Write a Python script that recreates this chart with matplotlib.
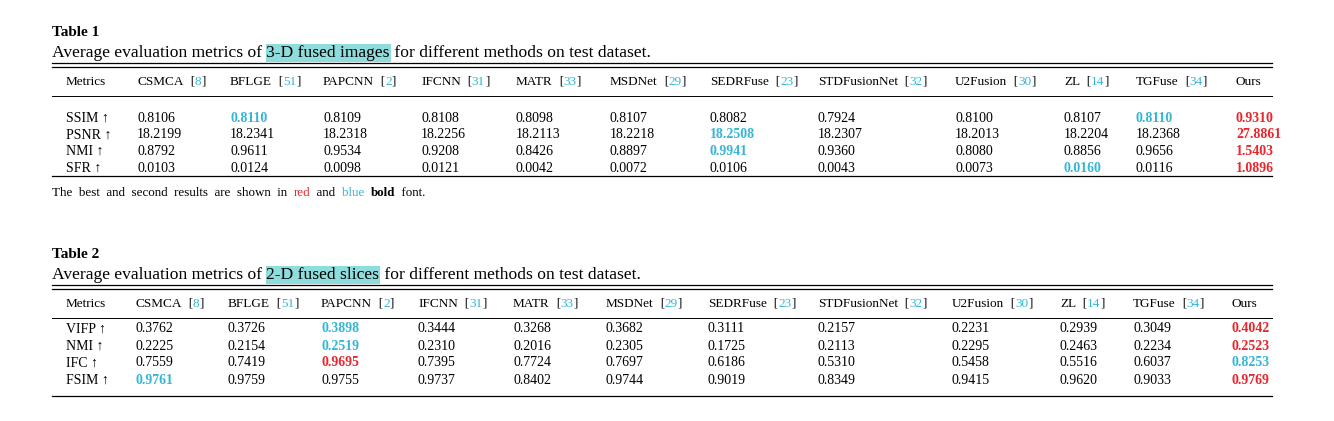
import matplotlib
matplotlib.use("Agg")
import matplotlib.pyplot as plt

plt.rcParams['font.family'] = ['Liberation Serif', 'DejaVu Serif']

RED = '#e8262b'
BLUE = '#35b6d6'
HL = '#8fdcdc'

methods = [('Metrics', None), ('CSMCA', '8'), ('BFLGE', '51'), ('PAPCNN', '2'), ('IFCNN', '31'),
           ('MATR', '33'), ('MSDNet', '29'), ('SEDRFuse', '23'), ('STDFusionNet', '32'),
           ('U2Fusion', '30'), ('ZL', '14'), ('TGFuse', '34'), ('Ours', None)]

t1_metrics = ['SSIM', 'PSNR', 'NMI', 'SFR']
t1_values = [
    ['0.8106', '0.8110', '0.8109', '0.8108', '0.8098', '0.8107', '0.8082', '0.7924', '0.8100', '0.8107', '0.8110', '0.9310'],
    ['18.2199', '18.2341', '18.2318', '18.2256', '18.2113', '18.2218', '18.2508', '18.2307', '18.2013', '18.2204', '18.2368', '27.8861'],
    ['0.8792', '0.9611', '0.9534', '0.9208', '0.8426', '0.8897', '0.9941', '0.9360', '0.8080', '0.8856', '0.9656', '1.5403'],
    ['0.0103', '0.0124', '0.0098', '0.0121', '0.0042', '0.0072', '0.0106', '0.0043', '0.0073', '0.0160', '0.0116', '1.0896'],
]
# (row, col) -> colour of best / second
t1_marks = {(0, 1): BLUE, (0, 10): BLUE, (0, 11): RED, (1, 6): BLUE, (1, 11): RED,
            (2, 6): BLUE, (2, 11): RED, (3, 9): BLUE, (3, 11): RED}

t2_metrics = ['VIFP', 'NMI', 'IFC', 'FSIM']
t2_values = [
    ['0.3762', '0.3726', '0.3898', '0.3444', '0.3268', '0.3682', '0.3111', '0.2157', '0.2231', '0.2939', '0.3049', '0.4042'],
    ['0.2225', '0.2154', '0.2519', '0.2310', '0.2016', '0.2305', '0.1725', '0.2113', '0.2295', '0.2463', '0.2234', '0.2523'],
    ['0.7559', '0.7419', '0.9695', '0.7395', '0.7724', '0.7697', '0.6186', '0.5310', '0.5458', '0.5516', '0.6037', '0.8253'],
    ['0.9761', '0.9759', '0.9755', '0.9737', '0.8402', '0.9744', '0.9019', '0.8349', '0.9415', '0.9620', '0.9033', '0.9769'],
]
t2_marks = {(0, 2): BLUE, (0, 11): RED, (1, 2): BLUE, (1, 11): RED,
            (2, 2): RED, (2, 11): BLUE, (3, 0): BLUE, (3, 11): RED}

W, H = 1334, 421
fig = plt.figure(figsize=(W / 100, H / 100), dpi=100)
fig.patch.set_facecolor('white')
renderer = fig.canvas.get_renderer()


def pieces(x, y, parts, size=9.5):
    # parts: list of (text, colour, weight, background)
    for s, c, w, bg in parts:
        kw = {}
        if bg:
            kw['bbox'] = dict(facecolor=bg, edgecolor='none', pad=0.5)
        t = fig.text(x / W, 1 - y / H, s, color=c, fontweight=w, fontsize=size,
                     va='center', ha='left', **kw)
        bb = t.get_window_extent(renderer)
        x += bb.width


def hline(y, lw=0.9):
    fig.add_artist(plt.Line2D([52 / W, 1272 / W], [1 - y / H] * 2, color='black', lw=lw))


def table(y0, num, caption_hl, metrics, values, marks, colx):
    pieces(52, y0, [('Table %d' % num, 'black', 'bold', None)], 11)
    pieces(52, y0 + 21, [('Average evaluation metrics of ', 'black', 'normal', None),
                         (caption_hl, 'black', 'normal', HL),
                         (' for different methods on test dataset.', 'black', 'normal', None)], 12.6)
    hline(y0 + 31)
    hline(y0 + 35)
    for x, (name, ref) in zip(colx, methods):
        parts = [(name, 'black', 'normal', None)]
        if ref:
            parts += [('  [', 'black', 'normal', None), (ref, BLUE, 'normal', None), (']', 'black', 'normal', None)]
        pieces(x, y0 + 50, parts, 9.5)
    hline(y0 + 64, 0.7)
    for i, m in enumerate(metrics):
        y = y0 + 86 + i * 16.8 if num == 1 else y0 + 75 + i * 17
        pieces(colx[0], y, [(m + ' \u2191', 'black', 'normal', None)], 10)
        for j, v in enumerate(values[i]):
            c = marks.get((i, j))
            pieces(colx[j + 1], y, [(v, c or 'black', 'bold' if c else 'normal', None)], 10)
    return y0 + (144 if num == 1 else 142)


cols1 = [66, 137, 230, 323, 421, 516, 610, 710, 818, 955, 1064, 1136, 1236]
cols2 = [66, 135, 228, 321, 418, 513, 606, 708, 818, 952, 1060, 1133, 1232]

yb = table(32, 1, '3-D fused images', t1_metrics, t1_values, t1_marks, cols1)
hline(yb, 0.9)
pieces(52, 193, [('The  best  and  second  results  are  shown  in  ', 'black', 'normal', None),
                 ('red', RED, 'normal', None), ('  and  ', 'black', 'normal', None),
                 ('blue', BLUE, 'normal', None), ('  ', 'black', 'normal', None),
                 ('bold', 'black', 'bold', None), ('  font.', 'black', 'normal', None)], 9.4)

yb = table(254, 2, '2-D fused slices', t2_metrics, t2_values, t2_marks, cols2)
hline(yb, 0.9)

fig.savefig('out.png', dpi=100)
